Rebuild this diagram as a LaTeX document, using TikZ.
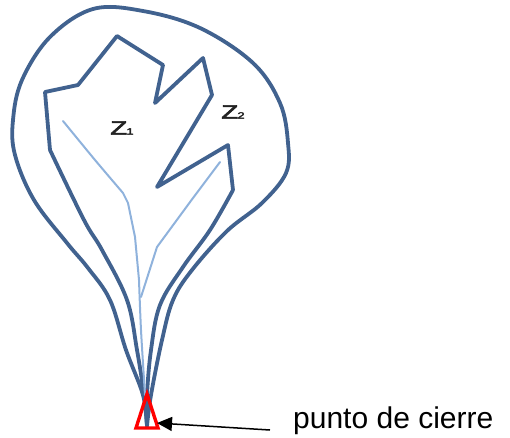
\documentclass[tikz,border=0pt]{standalone}
\usepackage{fontspec}
\setmainfont{Liberation Sans}
\newfontfamily\zfont{Liberation Sans}[FakeBold=3]
\usetikzlibrary{arrows.meta}
\definecolor{darkline}{HTML}{41628F}
\definecolor{lightline}{HTML}{8FB2DC}
\definecolor{labelgray}{HTML}{222222}
\newcommand{\zname}[1]{\scalebox{1.45}[1]{\zfont\fontsize{19}{19}\selectfont Z\kern-0.5pt{\fontsize{9}{9}\selectfont #1}}}
\tikzset{
  outline/.style={draw=darkline, line width=3.8pt, line join=round, line cap=round},
  thinline/.style={draw=lightline, line width=2pt, line join=round, line cap=round},
  zlabel/.style={text=labelgray, inner sep=0pt},
  closebox/.style={draw=red, line width=3.4pt, line join=miter},
  pointer/.style={draw=black, line width=1.5pt, -{Triangle[length=15pt,width=14pt]}}
}
\begin{document}
\begin{tikzpicture}[x=1pt,y=-1pt]
\useasboundingbox (0,0) rectangle (510,437);
% outer contour
\draw[outline] plot[smooth,tension=0.6] coordinates{
 (147,426) (143,395) (126,350) (110,300) (88,268) (67,243) (34,200) (15,155) (13,120)
 (22,80) (50,37) (93,9) (143,11) (200,28) (253,63) (280,103) (288,143) (286,173)
 (262,203) (227,231) (192,270) (173,300) (162,340) (151,395) (147,426)};
% inner polygon
\draw[outline] (50,150) -- (45,92) -- (78,85) -- (117,36) -- (163,65) -- (155,103)
 -- (203,58) -- (212,95) -- (157,187) -- (228,145) -- (233,190);
\draw[outline] plot[smooth,tension=0.6] coordinates{
 (233,190) (210,230) (183,267) (160,305) (151,350) (147,395) (147,426)};
\draw[outline] plot[smooth,tension=0.6] coordinates{
 (147,426) (144,395) (137,350) (127,300) (102,250) (84,220) (50,150)};
% light lines
\draw[thinline] plot[smooth,tension=0.4] coordinates{
 (63,121) (95,160) (123,193)} -- (128,203) -- (135,237) -- (139,280)
 plot[smooth,tension=0.5] coordinates{(139,280) (141,330) (145,395)};
\draw[thinline] (220,162) -- (193,198) -- (157,247) -- (141,297);
% labels
\node[zlabel] (z1) at (122,128) {\zname{1}};
\node[zlabel] (z2) at (233,112) {\zname{2}};
% closing point
\draw[closebox] (147,394) -- (158,428) -- (136,428) -- cycle;
\coordinate (tip) at (157,423);
\node[anchor=base west, inner sep=0pt, font=\fontsize{30}{34}\selectfont] (lbl) at (293,428) {punto de cierre};
\coordinate (tail) at (270,430);
\draw[pointer] (tail) -- (tip);
\end{tikzpicture}
\end{document}
